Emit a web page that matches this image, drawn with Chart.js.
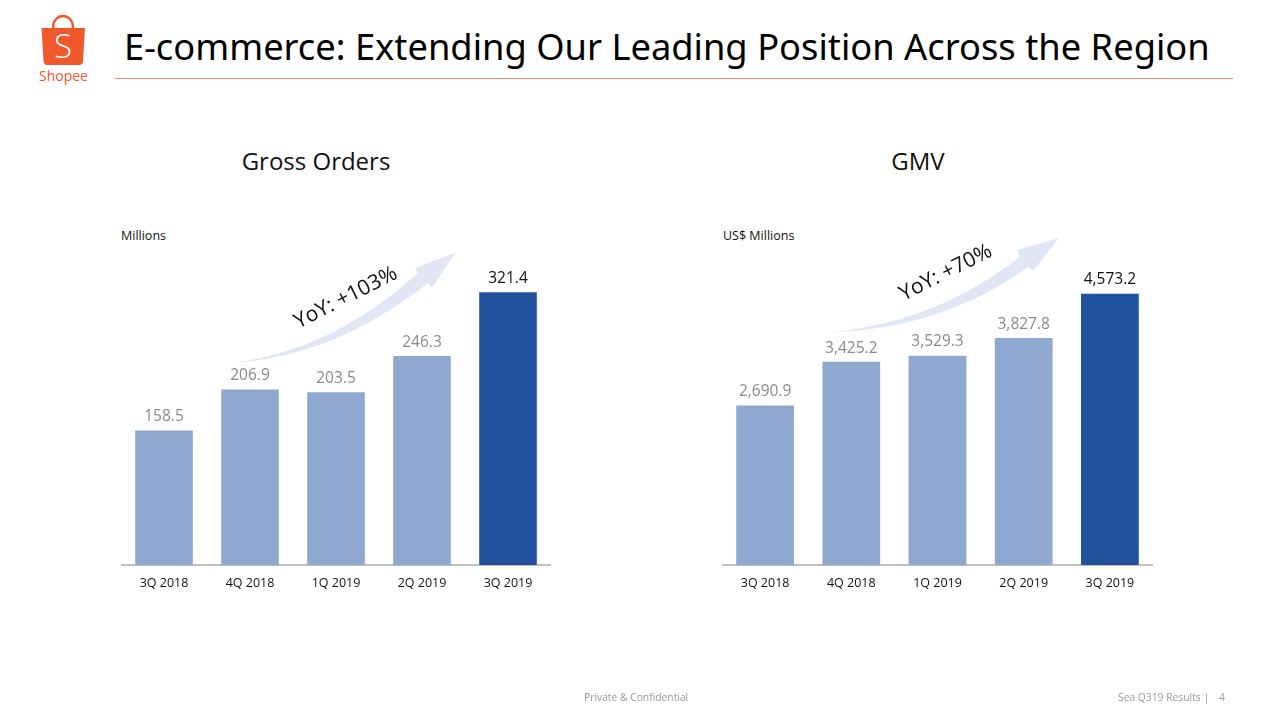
<!DOCTYPE html>
<html>
<head>
<meta charset="utf-8">
<title>E-commerce</title>
<script src="https://cdn.jsdelivr.net/npm/chart.js@4"></script>
<style>
  html, body { margin: 0; padding: 0; background: #fff; }
  body { width: 1270px; height: 715px; position: relative; overflow: hidden; font-family: "Open Sans", sans-serif; }
  .abs { position: absolute; white-space: nowrap; }
  canvas { position: absolute; }
  #mainTitle { left: 124px; top: 23px; font-size: 36.3px; line-height: 46px; color: #000; font-family: "Noto Sans", sans-serif; }
  #rule { left: 115px; top: 78px; width: 1118px; height: 1px; background: #ef8a80; }
  .chartTitle { font-size: 24px; line-height: 30px; color: #111; top: 146px; transform: translateX(-50%); }
  .unit { font-size: 12.5px; line-height: 16px; color: #111; top: 228px; }
  .yoy { font-size: 21px; line-height: 26px; color: #111; transform: translate(-50%, -50%) rotate(-27deg); }
  .foot { font-size: 10.3px; line-height: 14px; color: #999; top: 690px; }
  #logoText { left: 39px; top: 67px; font-size: 14px; line-height: 18px; color: #f1582c; }
</style>
</head>
<body>

<!-- logo -->
<svg class="abs" style="left:38px;top:12px" width="52" height="56" viewBox="38 12 52 56">
  <path d="M53 28 C53 12 73 12 73 28" fill="none" stroke="#f1582c" stroke-width="2.4"/>
  <path d="M41.5 28 H85 L83 61 Q82.800 65 79 65 H47 Q44 65 43.500 61 Z" fill="#f1582c"/>
</svg>
<div class="abs" style="left:54px;top:26px;font-size:33px;line-height:40px;font-weight:300;color:#fff;">S</div>
<div class="abs" id="logoText">Shopee</div>

<div class="abs" id="mainTitle">E-commerce: Extending Our Leading Position Across the Region</div>
<div class="abs" id="rule"></div>

<div class="abs chartTitle" style="left:316px">Gross Orders</div>
<div class="abs chartTitle" style="left:918px">GMV</div>
<div class="abs unit" style="left:121px">Millions</div>
<div class="abs unit" style="left:723px">US$ Millions</div>

<canvas id="ordersChart" style="left:121px;top:240px;width:430px;height:360px"></canvas>
<canvas id="gmvChart" style="left:722px;top:240px;width:431px;height:360px"></canvas>

<!-- growth arrows -->
<svg class="abs" style="left:0;top:0" width="1270" height="715">
  <path d="M233 363 C310 352 365 320 418 273 L415 268 L455 253 L432 288 L428 283 C370 328 310 357 233 363 Z" fill="#e0e6f4"/>
  <path d="M830 332 C910 325 970 295 1020 257 L1017 250 L1059 238 L1033 271 L1028 267 C975 305 910 330 830 332 Z" fill="#e0e6f4"/>
</svg>
<div class="abs yoy" style="left:345px;top:296px">YoY: +103%</div>
<div class="abs yoy" style="left:945px;top:271px">YoY: +70%</div>

<div class="abs foot" style="left:584px">Private &amp; Confidential</div>
<div class="abs foot" style="left:1118px">Sea Q319 Results |</div>
<div class="abs foot" style="left:1219px">4</div>

<script>
const quarters = ["3Q 2018", "4Q 2018", "1Q 2019", "2Q 2019", "3Q 2019"];
const grossOrders = [158.5, 206.9, 203.5, 246.3, 321.4];
const gmv = [2690.9, 3425.2, 3529.3, 3827.8, 4573.2];
const lightBlue = "#8fa8d0";
const darkBlue = "#1f519c";
const barColors = [lightBlue, lightBlue, lightBlue, lightBlue, darkBlue];
const labelColors = ["#8a8a8a", "#8a8a8a", "#8a8a8a", "#8a8a8a", "#111111"];

// draws the number above each bar
const valueLabels = {
  id: "valueLabels",
  afterDatasetsDraw(chart, args, opts) {
    const ctx = chart.ctx;
    const meta = chart.getDatasetMeta(0);
    ctx.save();
    ctx.font = '15.5px "Open Sans"';
    ctx.textAlign = "center";
    ctx.textBaseline = "bottom";
    meta.data.forEach((bar, i) => {
      ctx.fillStyle = labelColors[i];
      const value = chart.data.datasets[0].data[i];
      const text = value.toLocaleString("en-US", { minimumFractionDigits: 1, maximumFractionDigits: 1 });
      ctx.fillText(text, bar.x, bar.y - 6);
    });
    ctx.restore();
  }
};

function makeChart(id, label, values, yMax) {
  return new Chart(document.getElementById(id), {
    type: "bar",
    data: {
      labels: quarters,
      datasets: [{ label: label, data: values, backgroundColor: barColors, barPercentage: 0.67, categoryPercentage: 1 }]
    },
    options: {
      responsive: false,
      animation: false,
      layout: { padding: 0 },
      plugins: { legend: { display: false }, tooltip: { enabled: false } },
      scales: {
        x: {
          afterFit: (scale) => { scale.height = 35; },
          grid: { display: false, drawTicks: false },
          border: { color: "#bfbfbf", width: 2 },
          ticks: { color: "#111", padding: 11, maxRotation: 0, font: { family: "Open Sans", size: 12.5 } }
        },
        y: { display: false, min: 0, max: yMax }
      }
    },
    plugins: [valueLabels]
  });
}

function sizeCanvas(id, w) {
  const c = document.getElementById(id);
  c.width = w;
  c.height = 360;
}
sizeCanvas("ordersChart", 430);
sizeCanvas("gmvChart", 431);
makeChart("ordersChart", "Gross Orders", grossOrders, 383);
makeChart("gmvChart", "GMV", gmv, 5480);
</script>
</body>
</html>
